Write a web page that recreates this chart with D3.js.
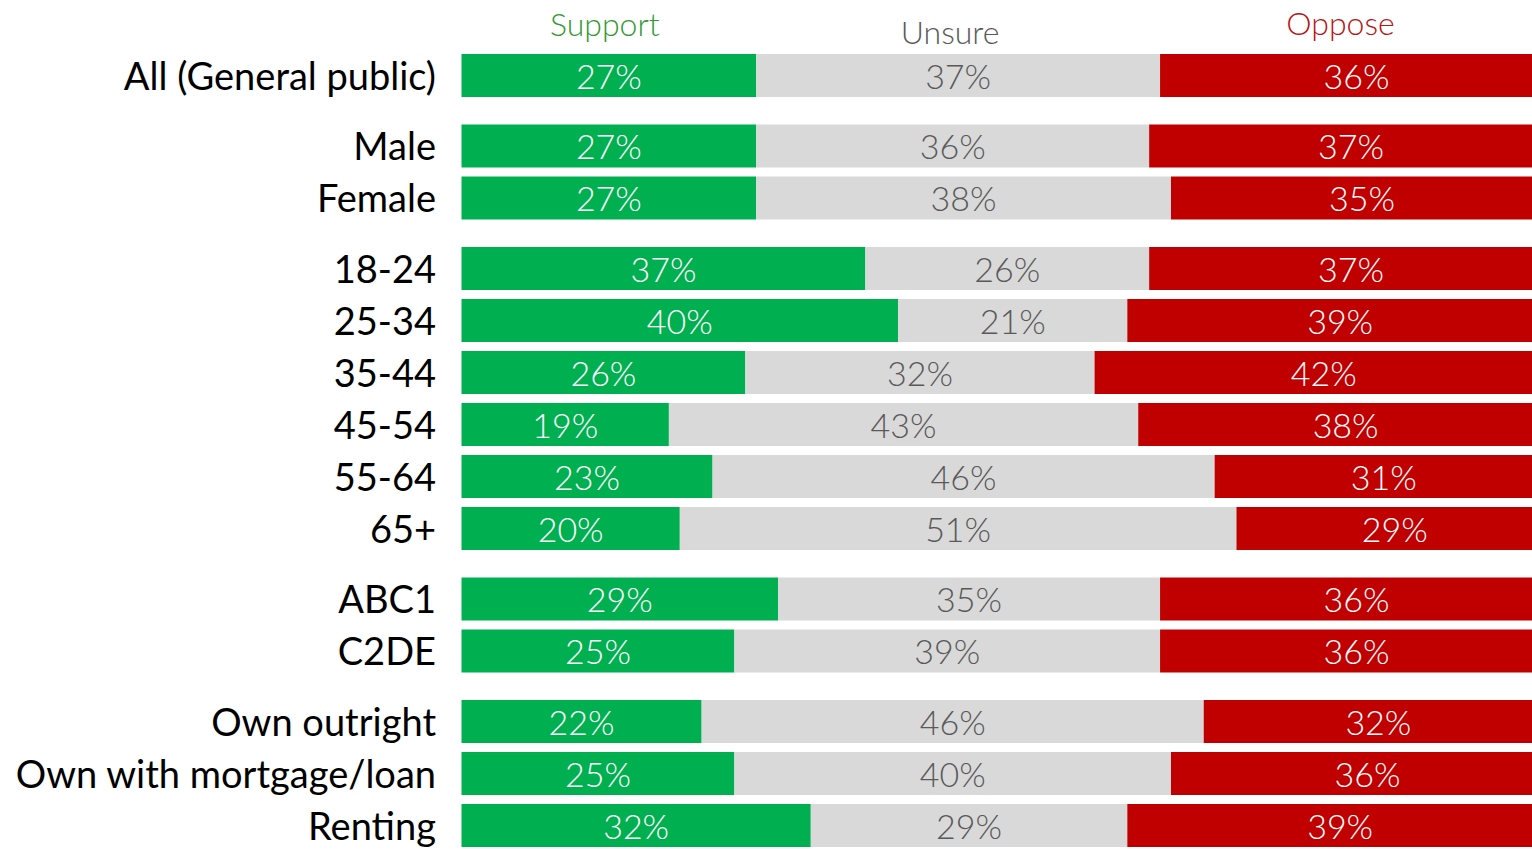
<!DOCTYPE html>
<html>
<head>
<meta charset="utf-8">
<script src="https://cdn.jsdelivr.net/npm/d3@7"></script>
<style>
  body { margin: 0; background: #fff; overflow: hidden; }
  text { font-family: Lato, "Open Sans", sans-serif; }
</style>
</head>
<body>
<div id="chart"></div>
<script>
var categories = ["All (General public)", "Male", "Female", "18-24", "25-34", "35-44", "45-54",
  "55-64", "65+", "ABC1", "C2DE", "Own outright", "Own with mortgage/loan", "Renting"];
// which block each row belongs to (gaps between blocks)
var groups = [0, 1, 1, 2, 2, 2, 2, 2, 2, 3, 3, 4, 4, 4];
var support = [27, 27, 27, 37, 40, 26, 19, 23, 20, 29, 25, 22, 25, 32];
var unsure  = [37, 36, 38, 26, 21, 32, 43, 46, 51, 35, 39, 46, 40, 29];
var oppose  = [36, 37, 35, 37, 39, 42, 38, 31, 29, 36, 36, 32, 36, 39];
var seriesNames = ["Support", "Unsure", "Oppose"];

var width = 1532, height = 849;
var rowStep = 52, barH = 43, groupGap = 18.5, top0 = 54;

var svg = d3.select("#chart").append("svg")
  .attr("width", width)
  .attr("height", height);

// bars run past the right edge of the picture, as in the original
var x = d3.scaleLinear().domain([0, 100]).range([461.5, 1553]);

var y = d3.scaleLinear().domain([0, 1]).range([top0, top0 + rowStep]);
function rowY(i) { return y(i) + groups[i] * groupGap; }

var color = d3.scaleOrdinal().domain(seriesNames).range(["#00b050", "#d9d9d9", "#c00000"]);
var valueColor = d3.scaleOrdinal().domain(seriesNames).range(["#ffffff", "#595959", "#ffffff"]);
var headColor = d3.scaleOrdinal().domain(seriesNames).range(["#339933", "#595959", "#b81414"]);

var rows = categories.map(function (c, i) {
  return { name: c, i: i, Support: support[i], Unsure: unsure[i], Oppose: oppose[i] };
});
var stacked = d3.stack().keys(seriesNames)(rows);

var layer = svg.selectAll("g.layer")
  .data(stacked)
  .enter().append("g")
  .attr("class", "layer");

layer.selectAll("rect")
  .data(function (s) { return s.map(function (d) { return { key: s.key, d: d }; }); })
  .enter().append("rect")
  .attr("x", function (p) { return x(p.d[0]); })
  .attr("y", function (p) { return rowY(p.d.data.i); })
  .attr("width", function (p) { return x(p.d[1]) - x(p.d[0]); })
  .attr("height", barH)
  .attr("fill", function (p) { return color(p.key); });

layer.selectAll("text")
  .data(function (s) { return s.map(function (d) { return { key: s.key, d: d }; }); })
  .enter().append("text")
  .attr("x", function (p) { return (x(p.d[0]) + x(p.d[1])) / 2; })
  .attr("y", function (p) { return rowY(p.d.data.i) + barH / 2 + 13; })
  .attr("text-anchor", "middle")
  .attr("font-size", 34)
  .attr("font-weight", 300)
  .attr("fill", function (p) { return valueColor(p.key); })
  .text(function (p) { return (p.d[1] - p.d[0]) + "%"; });

// category labels
svg.selectAll("text.cat")
  .data(categories)
  .enter().append("text")
  .attr("class", "cat")
  .attr("x", 436)
  .attr("y", function (d, i) { return rowY(i) + barH / 2 + 14; })
  .attr("text-anchor", "end")
  .attr("font-size", 38)
  .attr("fill", "#000")
  .text(function (d) { return d; });

// series headers over the first row
var headY = { Support: 36, Unsure: 44, Oppose: 35 };
var headDx = { Support: -4, Unsure: -8, Oppose: -16 };
svg.selectAll("text.head")
  .data(stacked)
  .enter().append("text")
  .attr("class", "head")
  .attr("x", function (s) { return (x(s[0][0]) + x(s[0][1])) / 2 + headDx[s.key]; })
  .attr("y", function (s) { return headY[s.key]; })
  .attr("text-anchor", "middle")
  .attr("font-size", 32)
  .attr("font-weight", 300)
  .attr("fill", function (s) { return headColor(s.key); })
  .text(function (s) { return s.key; });
</script>
</body>
</html>
